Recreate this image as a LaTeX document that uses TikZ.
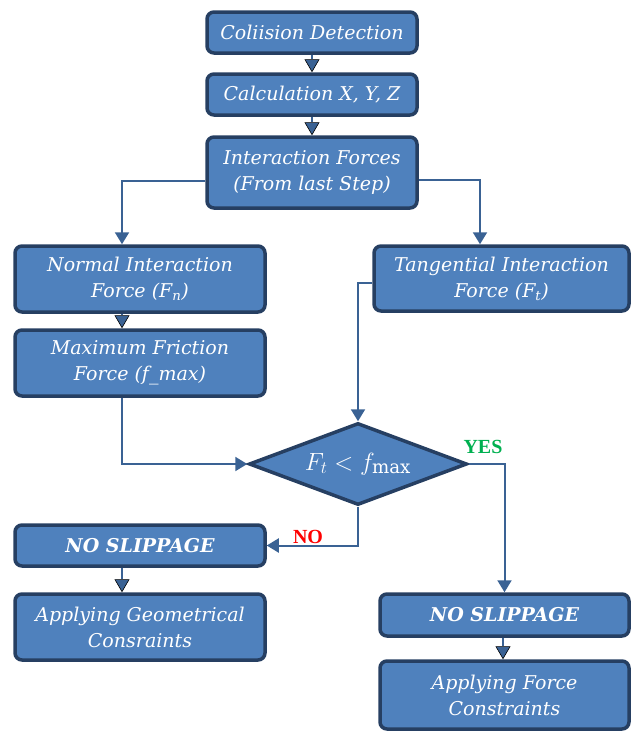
\documentclass[tikz,border=0pt]{standalone}
\usepackage{fontspec}
\setmainfont{DejaVu Serif}
\newfontfamily\lblfont{Liberation Serif}
\usetikzlibrary{shapes.geometric, arrows.meta}
\definecolor{boxfill}{HTML}{4F81BD}
\definecolor{boxline}{HTML}{263F62}
\definecolor{connblue}{HTML}{3A6294}
\definecolor{yesgreen}{HTML}{00B050}
\begin{document}
\begin{tikzpicture}[x=1pt, y=-1pt]
    % Node styles
    \tikzstyle{blk} = [rectangle, rounded corners=7pt, draw=boxline, line width=3.5pt, fill=boxfill, text=white, align=center, inner sep=0pt, font=\fontsize{19}{26}\selectfont\itshape]
    \tikzstyle{dec} = [diamond, aspect=2.6, draw=boxline, line width=3.5pt, fill=boxfill, text=white, inner sep=0pt, minimum width=218pt, minimum height=82pt, font=\fontsize{26}{30}\selectfont]
    \tikzstyle{conn} = [draw=connblue, line width=2pt, -{Triangle[width=14pt, length=12pt]}]
    \tikzstyle{link} = [draw=connblue, line width=2pt, -{Triangle[width=15pt, length=13pt, fill=connblue, color=black, line width=0.6pt]}]
    \tikzstyle{lbl} = [font=\lblfont\fontsize{20}{22}\selectfont\bfseries, inner sep=0pt]

    \useasboundingbox (0,0) rectangle (632,731);

    % Nodes
    % top column
    \node[blk, minimum width=210pt, minimum height=41pt] (cd) at (312,32.5) {Coliision Detection};
    \node[blk, minimum width=210pt, minimum height=41pt] (calc) at (312,94.5) {Calculation \textit{X}, \textit{Y}, \textit{Z}};
    \node[blk, minimum width=210pt, minimum height=71pt] (intf) at (312,172.5) {Interaction Forces\\(From last Step)};

    % left column
    \node[blk, minimum width=250pt, minimum height=66pt] (nif) at (140,279) {Normal Interaction\\Force (\textit{F}\textsubscript{\textit{n}})};
    \node[blk, minimum width=250pt, minimum height=66pt] (mff) at (140,363) {Maximum Friction\\Force (\textit{f}\_max)};

    % right column
    \node[blk, minimum width=255pt, minimum height=65pt] (tif) at (501.5,278.5) {Tangential Interaction\\Force (\textit{F}\textsubscript{\textit{t}})};

    % decision
    \node[dec] (cmp) at (358,464) {$F_t < f_{\mathrm{max}}$};

    % outcomes
    \node[blk, minimum width=250pt, minimum height=41pt, font=\fontsize{19}{26}\selectfont\bfseries\itshape] (nsl) at (140,545.5) {NO SLIPPAGE};
    \node[blk, minimum width=250pt, minimum height=66pt] (agc) at (140,627) {Applying Geometrical\\Consraints};
    \node[blk, minimum width=249pt, minimum height=42pt, font=\fontsize{19}{26}\selectfont\bfseries\itshape] (nsr) at (504.5,615) {NO SLIPPAGE};
    \node[blk, minimum width=249pt, minimum height=68pt] (afc) at (504.5,695) {Applying Force\\Constraints};

    % labels
    \node[lbl, text=red] (no) at (308,537) {NO};
    \node[lbl, text=yesgreen] (yes) at (483,447) {YES};

    % Edges
    \draw[link] (cd) -- (calc);
    \draw[link] (calc) -- (intf);
    \draw[link] ([xshift=-18pt]nif.south) -- ([xshift=-18pt]mff.north);
    \draw[link] ([xshift=-18pt]nsl.south) -- ([xshift=-18pt]agc.north);
    \draw[link] ([xshift=-1.5pt]nsr.south) -- ([xshift=-1.5pt]afc.north);

    \draw[conn] ([yshift=-8.5pt]intf.west) -| ([xshift=-18pt]nif.north);
    \draw[conn] ([yshift=-7.5pt]intf.east) -| ([xshift=-21.5pt]tif.north);
    \draw[conn] ([yshift=-4.5pt]tif.west) -| (cmp.north);
    \draw[conn] ([xshift=-18pt]mff.south) |- (cmp.west);
    \draw[conn] (cmp.south) |- (nsl.east);
    \draw[conn] (cmp.east) -| (nsr.north);

\end{tikzpicture}
\end{document}
